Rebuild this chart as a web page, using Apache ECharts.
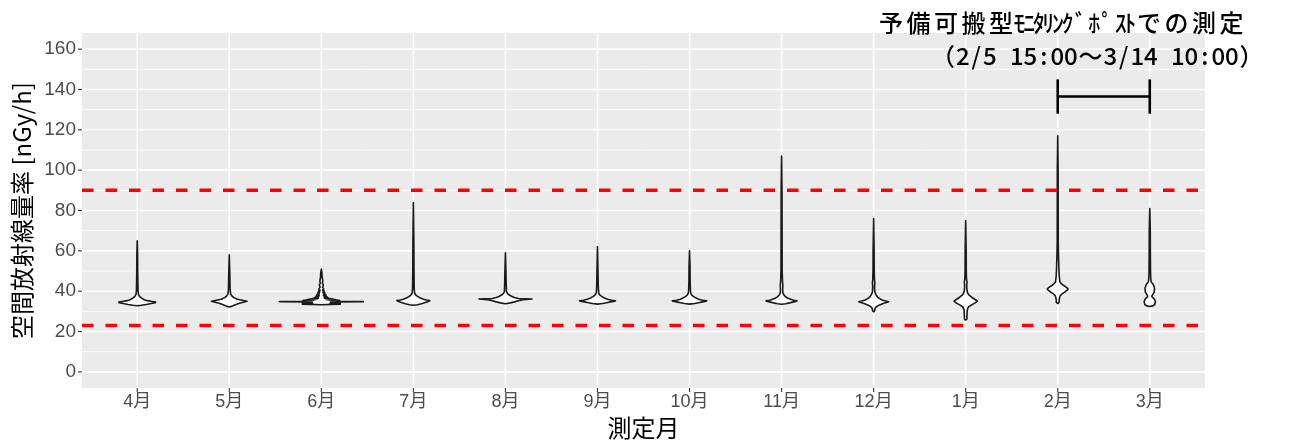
<!DOCTYPE html>
<html>
<head>
<meta charset="utf-8">
<script src="https://cdn.jsdelivr.net/npm/echarts@6/dist/echarts.min.js"></script>
<style>
  html, body { margin: 0; padding: 0; background: #ffffff; overflow: hidden; }
  #chart { width: 1296px; height: 440px; }
</style>
</head>
<body>
<div id="chart"></div>
<script>
// Month categories (fiscal year order)
const months = ['4月', '5月', '6月', '7月', '8月', '9月', '10月', '11月', '12月', '1月', '2月', '3月'];
const yTicks = [0, 20, 40, 60, 80, 100, 120, 140, 160];
const yMinor = [10, 30, 50, 70, 90, 110, 130, 150];
// Reference levels [nGy/h]
const refLines = [90, 23];
// Period measured with the spare portable monitoring post
const bracketMonths = [10, 11];
const bracketRange = [128, 145];
const noteLines = ['予備可搬型ﾓﾆﾀﾘﾝｸﾞﾎﾟｽﾄでの測定', '（2/5 15:00～3/14 10:00）'];

// Violin outlines: [dose rate nGy/h, half width in % of one month slot]
const vApr = [[32.8,0],[33.0,4.3],[33.4,9.8],[33.9,15.2],[34.3,19.5],[34.6,20.1],[34.9,16.3],[35.3,10.9],[35.8,7.6],[36.5,4.9],[37.3,2.7],[38.3,1.4],[40,0.9],[44,0.7],[50,0.5],[58,0.4],[65,0]];
const vMay = [[32.2,0],[32.6,3.3],[33.3,6.5],[34,10.9],[34.6,16.3],[35,19.3],[35.4,15.2],[36,8.7],[36.8,4.9],[37.7,2.7],[38.7,1.4],[41,0.9],[48,0.6],[58,0]];
const vJun = [[33.3,0],[33.45,10.9],[33.55,20.6],[33.65,8.7],[33.75,20.6],[33.85,10.9],[33.95,20.6],[34.05,9.8],[34.15,20.6],[34.25,10.9],[34.35,19.5],[34.45,9.8],[34.55,19.5],[34.65,13],[34.8,45.6],[34.95,15.2],[35.05,20.6],[35.15,9.8],[35.25,19.5],[35.35,8.7],[35.45,19.5],[35.55,8.7],[35.65,17.4],[35.75,6.5],[35.85,15.2],[35.95,5.4],[36.05,13],[36.2,4.3],[36.35,9.8],[36.5,3.3],[36.7,7.6],[36.9,3.3],[37.1,6.5],[37.4,2.7],[37.7,5.4],[38,2.2],[38.4,4.9],[38.8,2.2],[39.2,3.8],[39.6,1.6],[40,3.3],[40.5,1.3],[41,2.7],[42,1.3],[43,2.2],[44,1.1],[45,1.6],[47,0.9],[49,0.65],[51,0]];
const vJul = [[33.0,0],[33.3,4.3],[33.8,8.7],[34.4,13],[35,16.8],[35.3,17.9],[35.6,14.1],[36,10.9],[36.6,7.6],[37.3,4.9],[38.1,2.7],[39,1.4],[41,0.9],[50,0.65],[65,0.5],[84,0]];
const vAug = [[33.8,0],[34.2,5.4],[34.7,9.8],[35.3,14.1],[35.8,19.5],[36.1,28.8],[36.4,14.1],[36.9,9.8],[37.5,6.5],[38.2,3.8],[39,2],[40,1.1],[44,0.8],[50,0.55],[59,0]];
const vSep = [[33.6,0],[33.9,5.4],[34.3,9.8],[34.7,14.1],[35.0,18.5],[35.2,19.5],[35.5,15.2],[36,10.9],[36.6,7.6],[37.3,4.9],[38,2.7],[39,1.4],[41,1],[44,0.8],[50,0.55],[62,0]];
const vOct = [[33.6,0],[33.9,5.4],[34.3,9.8],[34.7,14.1],[35.0,17.9],[35.2,18.7],[35.5,14.1],[36,9.8],[36.6,7.1],[37.3,4.3],[38,2.5],[39,1.3],[41,0.9],[45,0.65],[52,0.55],[60,0]];
const vNov = [[33.5,0],[33.8,4.3],[34.2,8.7],[34.7,13],[35.0,16.3],[35.2,16.8],[35.5,13],[36,9.8],[36.6,6.5],[37.3,4.1],[38.2,2.4],[39.2,1.4],[41,1.2],[43,1.4],[45,1],[50,0.65],[70,0.55],[90,0.45],[107,0]];
const vDec = [[29.8,0],[30.2,1.1],[31,1.3],[31.8,2],[32.5,3.8],[33.2,6.5],[33.9,10.3],[34.5,14.7],[34.8,16.3],[35.1,13],[35.6,9.2],[36.3,6.5],[37.1,4.3],[38,2.8],[39,1.7],[40.2,1.2],[42,1],[44,1.3],[46,0.9],[50,0.65],[60,0.55],[76,0]];
const vJan = [[25.7,0],[26.2,1.3],[28,1.4],[30,1.6],[31.5,2.2],[32.3,3.3],[33.2,6.5],[34.2,10.3],[35.1,12.7],[36,9.8],[37,6.5],[38,3.8],[39,2.2],[40.5,1.4],[43,1.1],[44.5,1.5],[46,0.9],[50,0.65],[60,0.55],[75,0]];
const vFeb = [[33.9,0],[34.3,1.4],[35.5,1.6],[36.8,2],[37.8,2.7],[38.5,4.3],[39.5,7.6],[40.5,10.3],[41.1,11.4],[41.8,9.8],[42.8,6.5],[43.8,3.8],[44.6,2.4],[46,2],[48,1.6],[51,1.3],[54,1.1],[58,0.8],[65,0.55],[80,0.5],[100,0.45],[117,0]];
const vMar = [[32.4,0],[32.7,3.3],[33.4,5.4],[34.9,6.1],[36.2,4.9],[37,2.7],[37.5,2.2],[38.2,3],[39.5,4.8],[41.5,5.2],[43.3,3.8],[44.5,1.6],[46,1.1],[50,0.8],[60,0.6],[70,0.55],[81,0]];
const violins = [vApr, vMay, vJun, vJul, vAug, vSep, vOct, vNov, vDec, vJan, vFeb, vMar];

const FONT = "'Liberation Sans', 'Noto Sans CJK JP', sans-serif";
const JP = "'Noto Sans CJK JP', sans-serif";
const monthIdx = months.map((m, i) => i);

// Fixed-pitch note text: full-width cells, narrow half-width cells,
// and sound marks (ﾞ ﾟ) with a little extra room after them
function fixedPitch(str) {
  return Array.from(str).map(c => {
    const code = c.codePointAt(0);
    let s = 'f';
    if (code === 0xff9e || code === 0xff9f) s = 'd';
    else if (code < 0x7f || (code >= 0xff61 && code <= 0xff9f)) s = 'h';
    return '{' + s + '|' + c + '}';
  }).join('');
}
function noteStyle(full, half, mark) {
  const base = { fontFamily: JP, fontSize: 24, fontWeight: 500, color: '#000000', align: 'center', height: 30 };
  return {
    f: Object.assign({}, base, { width: full }),
    h: Object.assign({}, base, { width: half }),
    d: Object.assign({}, base, { width: mark, align: 'left' })
  };
}

function hLines(width, color, dash) {
  return function (params, api) {
    const cs = params.coordSys;
    const y = api.coord([0, api.value(1)])[1];
    return {
      type: 'line',
      shape: { x1: cs.x, y1: y, x2: cs.x + cs.width, y2: y },
      style: { stroke: color, lineWidth: width, lineDash: dash || null }
    };
  };
}

function vLines(params, api) {
  const cs = params.coordSys;
  const x = api.coord([api.value(0), 0])[0];
  return {
    type: 'line',
    shape: { x1: x, y1: cs.y, x2: x, y2: cs.y + cs.height },
    style: { stroke: '#ffffff', lineWidth: 1.6 }
  };
}

// Short tick marks outside the panel
function yTickMark(params, api) {
  const cs = params.coordSys;
  const y = api.coord([0, api.value(1)])[1];
  return { type: 'line', shape: { x1: cs.x - 4, y1: y, x2: cs.x, y2: y },
           style: { stroke: '#333333', lineWidth: 1.1 } };
}
function xTickMark(params, api) {
  const cs = params.coordSys;
  const x = api.coord([api.value(0), 0])[0];
  const yb = cs.y + cs.height;
  return { type: 'line', shape: { x1: x, y1: yb, x2: x, y2: yb + 4 },
           style: { stroke: '#333333', lineWidth: 1.1 } };
}

function violin(params, api) {
  const idx = api.value(0);
  const prof = violins[params.dataIndex];
  const right = prof.map(([y, w]) => api.coord([idx + w / 100, y]));
  const left = prof.slice().reverse().map(([y, w]) => api.coord([idx - w / 100, y]));
  return {
    type: 'polygon',
    shape: { points: right.concat(left) },
    style: { fill: '#ffffff', stroke: '#1a1a1a', lineWidth: 1.6, lineJoin: 'round' }
  };
}

function bracket(params, api) {
  const a = api.coord([api.value(0), api.value(2)]);
  const b = api.coord([api.value(1), api.value(3)]);
  const mid = (a[1] + b[1]) / 2;
  const st = { stroke: '#000000', lineWidth: 2.6 };
  return {
    type: 'group',
    children: [
      { type: 'line', shape: { x1: a[0], y1: a[1], x2: a[0], y2: b[1] }, style: st },
      { type: 'line', shape: { x1: b[0], y1: a[1], x2: b[0], y2: b[1] }, style: st },
      { type: 'line', shape: { x1: a[0], y1: mid, x2: b[0], y2: mid }, style: st }
    ]
  };
}

const chart = echarts.init(document.getElementById('chart'), null, { renderer: 'canvas' });
chart.setOption({
  animation: false,
  backgroundColor: '#ffffff',
  grid: {
    left: 82, right: 91, top: 33, bottom: 52,
    outerBoundsMode: 'none', containLabel: false,
    show: true, backgroundColor: '#EBEBEB', borderWidth: 0
  },
  xAxis: {
    type: 'value', min: -0.6, max: 11.6,
    name: '測定月', nameLocation: 'middle', nameGap: 28,
    nameTextStyle: { fontFamily: JP, fontSize: 24, color: '#000000' },
    axisLine: { show: false },
    splitLine: { show: false },
    axisTick: { show: false },
    axisLabel: {
      customValues: monthIdx, margin: 5,
      formatter: v => months[Math.round(v)] || '',
      fontFamily: FONT, fontSize: 18, color: '#4D4D4D'
    }
  },
  yAxis: {
    type: 'value', min: -8, max: 168,
    name: '空間放射線量率 [nGy/h]', nameLocation: 'middle', nameGap: 47, nameRotate: 90,
    nameTextStyle: { fontFamily: JP, fontSize: 24, color: '#000000' },
    axisLine: { show: false },
    splitLine: { show: false },
    axisTick: { show: false },
    axisLabel: {
      customValues: yTicks, margin: 6,
      fontFamily: FONT, fontSize: 19, color: '#4D4D4D'
    }
  },
  series: [
    { type: 'custom', name: 'minor', z: 1, silent: true, clip: true,
      data: yMinor.map(v => [0, v]), renderItem: hLines(0.8, '#ffffff') },
    { type: 'custom', name: 'major', z: 2, silent: true, clip: true,
      data: yTicks.map(v => [0, v]), renderItem: hLines(1.6, '#ffffff') },
    { type: 'custom', name: 'monthGrid', z: 2, silent: true, clip: true,
      data: monthIdx.map(i => [i, 0]), renderItem: vLines },
    { type: 'custom', name: 'yTicks', z: 2, silent: true, clip: false,
      data: yTicks.map(v => [0, v]), renderItem: yTickMark },
    { type: 'custom', name: 'xTicks', z: 2, silent: true, clip: false,
      data: monthIdx.map(i => [i, 0]), renderItem: xTickMark },
    { type: 'custom', name: 'violin', z: 3, silent: true,
      data: monthIdx.map(i => [i, 35]), renderItem: violin },
    { type: 'custom', name: 'reference', z: 4, silent: true, clip: true,
      data: refLines.map(v => [0, v]), renderItem: hLines(3.5, '#FF0000', [11.5, 12]) },
    { type: 'custom', name: 'bracket', z: 5, silent: true,
      data: [[bracketMonths[0], bracketMonths[1], bracketRange[0], bracketRange[1]]],
      renderItem: bracket }
  ],
  graphic: [
    { type: 'text', left: 879, top: 11, z: 10,
      style: { text: fixedPitch(noteLines[0]), rich: noteStyle(27.5, 9.6, 17) } },
    { type: 'text', left: 931, top: 44, z: 10,
      style: { text: fixedPitch(noteLines[1]), rich: noteStyle(26, 13.5, 13.5) } }
  ]
});
</script>
</body>
</html>
